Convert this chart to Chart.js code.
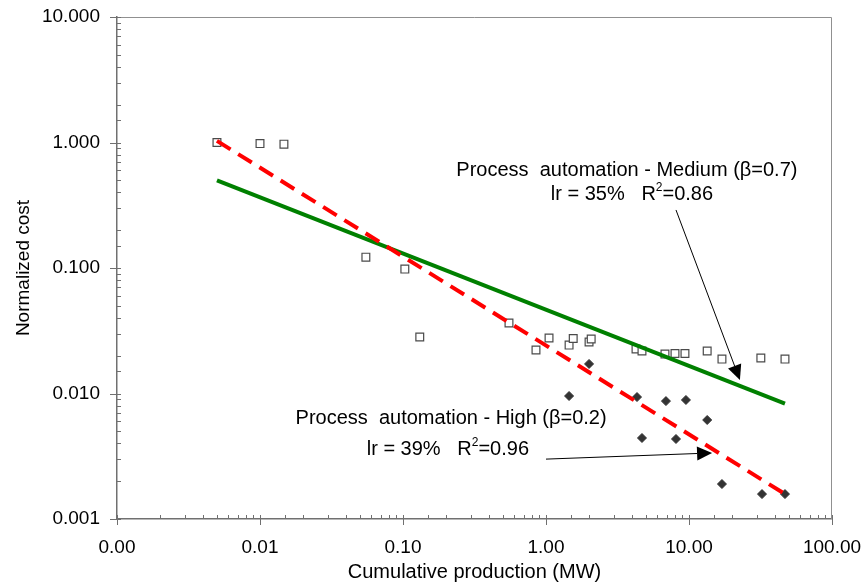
<!DOCTYPE html>
<html>
<head>
<meta charset="utf-8">
<script src="https://cdn.jsdelivr.net/npm/chart.js@4.4.1/dist/chart.umd.min.js"></script>
<style>
  html, body { margin: 0; padding: 0; background: #fff; }
  #wrap { width: 868px; height: 585px; }
</style>
</head>
<body>
<div id="wrap"><canvas id="myChart" width="868" height="585"></canvas></div>
<script>
// data (cumulative production MW, normalized cost)
const mediumX = [0.005, 0.01, 0.0147, 0.055, 0.103, 0.131, 0.551, 0.851, 1.05, 1.45, 1.55, 2.0, 2.07, 4.26, 4.69, 6.79, 7.98, 9.37, 13.4, 17.0, 31.8, 46.9];
const mediumY = [1.0, 0.98, 0.97, 0.122, 0.098, 0.0282, 0.0365, 0.0222, 0.0277, 0.0243, 0.0274, 0.0257, 0.0272, 0.0226, 0.0218, 0.0206, 0.0208, 0.0208, 0.0218, 0.0188, 0.0192, 0.0188];

const highX = [1.45, 2.0, 4.33, 4.69, 6.9, 8.11, 9.52, 13.4, 17.0, 32.4, 46.9];
const highY = [0.00955, 0.0172, 0.00937, 0.00442, 0.0087, 0.00434, 0.00888, 0.00615, 0.0019, 0.00158, 0.00158];

// power trend lines (end points)
const mediumFitX = [0.005, 46.9];
const mediumFitY = [0.50, 0.0083];
const highFitX = [0.005, 46.9];
const highFitY = [1.03, 0.00158];

const xTickLabels = ['0.00', '0.01', '0.10', '1.00', '10.00', '100.00'];
const yTickLabels = ['0.001', '0.010', '0.100', '1.000', '10.000'];

function toPoints(xs, ys) {
  return xs.map((x, i) => ({x: x, y: ys[i]}));
}

function isDecade(v) {
  const l = Math.log10(v);
  return Math.abs(l - Math.round(l)) < 1e-6;
}

const fontFam = "'Liberation Sans', Arial, sans-serif";

// annotations: text + arrows, placed with data coords
const notes = [
  {x: 3.68, y: 0.60, parts: [['Process  automation - Medium (\u03b2=0.7)']]},
  {x: 3.99, y: 0.382, parts: [['lr = 35%   R'], ['2', true], ['=0.86']]},
  {x: 0.217, y: 0.00627, parts: [['Process  automation - High (\u03b2=0.2)']]},
  {x: 0.206, y: 0.00355, parts: [['lr = 39%   R'], ['2', true], ['=0.96']]}
];
const arrows = [
  {x1: 8.11, y1: 0.29, x2: 22.7, y2: 0.0128},
  {x1: 1.0, y1: 0.0030, x2: 14.5, y2: 0.00336}
];

const decor = {
  id: 'decor',
  afterDraw(chart) {
    const ctx = chart.ctx;
    const a = chart.chartArea;
    const xs = chart.scales.x, ys = chart.scales.y;
    ctx.save();
    // frame top/right
    ctx.strokeStyle = '#909090';
    ctx.lineWidth = 1;
    ctx.beginPath();
    ctx.moveTo(a.left, a.top + 0.5);
    ctx.lineTo(a.right - 0.5, a.top + 0.5);
    ctx.lineTo(a.right - 0.5, a.bottom);
    ctx.stroke();
    // tick marks
    ctx.strokeStyle = '#707070';
    ctx.beginPath();
    xs.ticks.forEach(t => {
      const px = Math.round(xs.getPixelForValue(t.value)) + 0.5;
      if (isDecade(t.value)) { ctx.moveTo(px, a.bottom - 4); ctx.lineTo(px, a.bottom + 6); }
      else { ctx.moveTo(px, a.bottom - 4); ctx.lineTo(px, a.bottom); }
    });
    ys.ticks.forEach(t => {
      const py = Math.round(ys.getPixelForValue(t.value)) + 0.5;
      if (isDecade(t.value)) { ctx.moveTo(a.left - 7, py); ctx.lineTo(a.left + 4, py); }
      else { ctx.moveTo(a.left, py); ctx.lineTo(a.left + 4, py); }
    });
    ctx.stroke();

    // annotation text
    ctx.fillStyle = '#000';
    ctx.textBaseline = 'middle';
    ctx.textAlign = 'left';
    notes.forEach(n => {
      let total = 0;
      n.parts.forEach(p => {
        ctx.font = (p[1] ? '12px ' : '20px ') + fontFam;
        total += ctx.measureText(p[0]).width;
      });
      let cx = xs.getPixelForValue(n.x) - total / 2;
      const cy = ys.getPixelForValue(n.y);
      n.parts.forEach(p => {
        ctx.font = (p[1] ? '12px ' : '20px ') + fontFam;
        ctx.fillText(p[0], cx, p[1] ? cy - 7 : cy);
        cx += ctx.measureText(p[0]).width;
      });
    });

    // arrows
    ctx.strokeStyle = '#000';
    ctx.lineWidth = 1;
    arrows.forEach(ar => {
      const x1 = xs.getPixelForValue(ar.x1), y1 = ys.getPixelForValue(ar.y1);
      const x2 = xs.getPixelForValue(ar.x2), y2 = ys.getPixelForValue(ar.y2);
      const ang = Math.atan2(y2 - y1, x2 - x1);
      const hl = 15, hw = 7;
      const bx = x2 - hl * Math.cos(ang), by = y2 - hl * Math.sin(ang);
      ctx.beginPath();
      ctx.moveTo(x1, y1);
      ctx.lineTo(bx, by);
      ctx.stroke();
      ctx.beginPath();
      ctx.moveTo(x2, y2);
      ctx.lineTo(bx + hw * Math.sin(ang), by - hw * Math.cos(ang));
      ctx.lineTo(bx - hw * Math.sin(ang), by + hw * Math.cos(ang));
      ctx.closePath();
      ctx.fill();
    });
    ctx.restore();
  }
};

const myChart = document.getElementById('myChart');

let chart = new Chart(myChart, {
  type: 'scatter',
  data: {
    datasets: [
      {
        label: 'Process automation - Medium',
        data: toPoints(mediumX, mediumY),
        pointStyle: 'rect',
        pointRadius: 5.5,
        backgroundColor: '#ffffff',
        borderColor: '#4a4a4a',
        borderWidth: 1.2,
        order: 2
      },
      {
        label: 'Process automation - High',
        data: toPoints(highX, highY),
        pointStyle: 'rectRot',
        pointRadius: 4.5,
        backgroundColor: '#333333',
        borderColor: '#333333',
        borderWidth: 1,
        order: 2
      },
      {
        label: 'Medium fit',
        data: toPoints(mediumFitX, mediumFitY),
        showLine: true,
        pointRadius: 0,
        borderColor: '#008000',
        borderWidth: 4,
        order: 1
      },
      {
        label: 'High fit',
        data: toPoints(highFitX, highFitY),
        showLine: true,
        pointRadius: 0,
        borderColor: '#ff0000',
        borderWidth: 4,
        borderDash: [16, 9],
        order: 0
      }
    ]
  },
  options: {
    responsive: false,
    animation: false,
    layout: { padding: { top: 17, right: 36, left: 0, bottom: 0 } },
    plugins: {
      legend: { display: false },
      tooltip: { enabled: false }
    },
    scales: {
      x: {
        type: 'logarithmic',
        min: 0.001,
        max: 100,
        afterFit(s) { s.height = 66; s.paddingLeft = 0; s.paddingRight = 0; },
        grid: { display: false },
        border: { display: true, color: '#707070', width: 1.5 },
        ticks: {
          autoSkip: false,
          maxRotation: 0,
          padding: 9,
          color: '#000',
          font: { family: fontFam, size: 19 },
          callback: function (v) {
            if (!isDecade(v)) return '';
            const i = Math.round(Math.log10(v)) + 3;
            return xTickLabels[i];
          }
        },
        title: {
          display: true,
          text: 'Cumulative production (MW)',
          color: '#000',
          font: { family: fontFam, size: 20 },
          padding: { top: 0, bottom: 1 }
        }
      },
      y: {
        type: 'logarithmic',
        min: 0.001,
        max: 10,
        afterFit(s) { s.width = 117; s.paddingTop = 0; s.paddingBottom = 0; },
        grid: { display: false },
        border: { display: true, color: '#707070', width: 1.5 },
        ticks: {
          autoSkip: false,
          padding: 9,
          color: '#000',
          font: { family: fontFam, size: 19 },
          callback: function (v) {
            if (!isDecade(v)) return '';
            const i = Math.round(Math.log10(v)) + 3;
            return yTickLabels[i];
          }
        },
        title: {
          display: true,
          text: 'Normalized cost',
          color: '#000',
          font: { family: fontFam, size: 19 },
          padding: { top: 12, bottom: 0 }
        }
      }
    }
  },
  plugins: [decor]
});
</script>
</body>
</html>
